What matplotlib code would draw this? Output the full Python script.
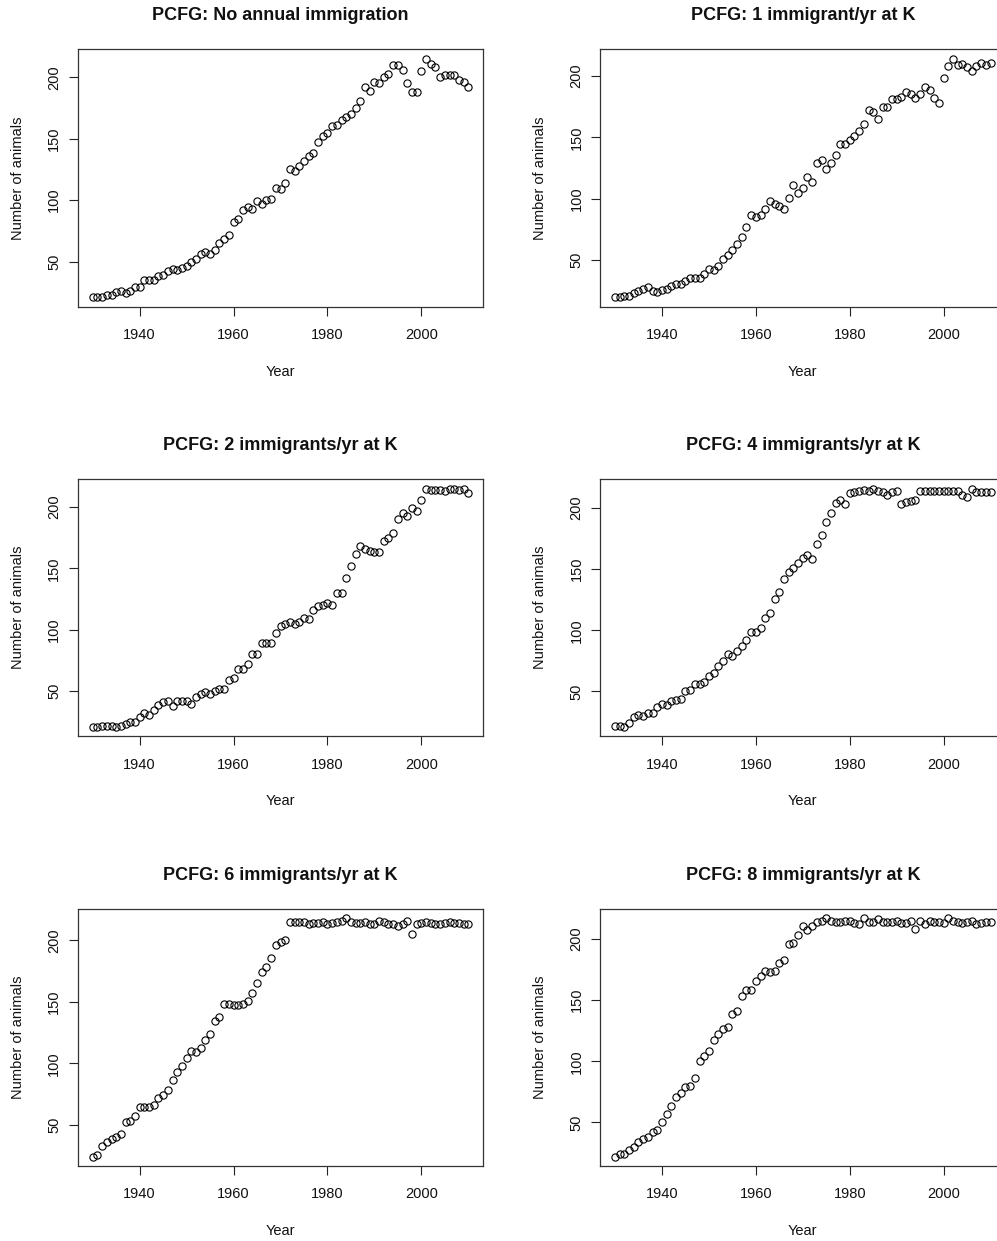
import matplotlib
matplotlib.use("Agg")
import matplotlib.pyplot as plt

plt.rcParams['font.family'] = ['Liberation Sans', 'DejaVu Sans']

years = list(range(1930, 2011))

titles = [
    "PCFG: No annual immigration",
    "PCFG: 1 immigrant/yr at K",
    "PCFG: 2 immigrants/yr at K",
    "PCFG: 4 immigrants/yr at K",
    "PCFG: 6 immigrants/yr at K",
    "PCFG: 8 immigrants/yr at K",
]

imm0 = [21, 21, 21, 23, 23, 25, 26, 24, 26, 29,
        29, 35, 35, 35, 38, 39, 42, 44, 43, 45,
        46, 50, 52, 56, 58, 56, 59, 65, 68, 72,
        82, 85, 92, 94, 93, 99, 97, 100, 101, 110,
        109, 114, 125, 124, 128, 132, 136, 138, 147, 152,
        155, 160, 161, 165, 168, 170, 175, 181, 192, 189,
        196, 195, 200, 203, 210, 210, 206, 195, 188, 188,
        205, 215, 211, 208, 200, 202, 202, 202, 198, 196,
        192]

imm1 = [20, 20, 21, 21, 23, 25, 27, 28, 25, 24,
        26, 27, 29, 31, 31, 33, 36, 36, 36, 39,
        43, 42, 45, 51, 54, 58, 63, 69, 77, 87,
        85, 87, 92, 98, 96, 94, 92, 101, 111, 105,
        109, 118, 114, 129, 132, 124, 129, 136, 145, 145,
        148, 151, 155, 161, 172, 171, 165, 175, 175, 181,
        181, 183, 187, 185, 182, 185, 191, 189, 182, 178,
        198, 208, 214, 209, 210, 207, 204, 208, 211, 209,
        211]

imm2 = [21, 21, 22, 22, 22, 21, 22, 23, 25, 25,
        29, 32, 31, 35, 39, 41, 42, 38, 42, 42,
        42, 40, 45, 48, 49, 48, 50, 52, 52, 59,
        61, 68, 68, 72, 80, 80, 89, 89, 89, 97,
        103, 105, 106, 105, 106, 110, 109, 116, 119, 120,
        122, 120, 130, 130, 142, 152, 162, 168, 166, 164,
        163, 163, 172, 175, 179, 190, 195, 193, 199, 197,
        206, 215, 214, 214, 214, 213, 215, 215, 214, 215,
        211]

imm4 = [22, 22, 21, 24, 29, 31, 30, 32, 32, 37,
        40, 39, 42, 43, 44, 50, 51, 56, 56, 58,
        63, 65, 71, 75, 81, 79, 83, 87, 92, 99,
        99, 102, 110, 114, 126, 131, 142, 148, 151, 155,
        159, 162, 158, 171, 178, 189, 196, 204, 207, 203,
        212, 213, 214, 215, 214, 216, 214, 213, 211, 213,
        214, 203, 205, 206, 207, 214, 214, 214, 214, 214,
        214, 214, 214, 214, 211, 209, 216, 213, 213, 213,
        213]

imm6 = [24, 25, 33, 36, 38, 40, 42, 52, 53, 57,
        64, 64, 64, 66, 72, 74, 78, 86, 93, 98,
        104, 110, 109, 112, 119, 124, 134, 138, 148, 148,
        147, 147, 148, 151, 157, 165, 174, 178, 186, 196,
        199, 200, 215, 215, 215, 215, 213, 214, 214, 215,
        213, 214, 215, 216, 218, 215, 214, 214, 215, 213,
        213, 216, 215, 213, 213, 212, 213, 216, 205, 213,
        214, 215, 214, 213, 213, 214, 215, 214, 214, 213,
        213]

imm8 = [22, 24, 24, 27, 30, 34, 36, 38, 42, 44,
        50, 57, 63, 71, 74, 79, 80, 86, 100, 104,
        108, 117, 122, 126, 128, 139, 141, 153, 158, 158,
        166, 170, 174, 173, 174, 180, 183, 196, 197, 203,
        211, 207, 211, 214, 215, 217, 215, 214, 214, 215,
        215, 213, 212, 217, 214, 214, 216, 214, 214, 214,
        215, 213, 213, 215, 208, 215, 212, 215, 214, 214,
        213, 217, 215, 214, 213, 214, 215, 212, 213, 214,
        214]

series = [imm0, imm1, imm2, imm4, imm6, imm8]
xticks = [1940, 1960, 1980, 2000]
yticks = [50, 100, 150, 200]

W, H = 997, 1241
fig = plt.figure(figsize=(W / 100, H / 100), dpi=100)

lefts = [77.7, 600.0]
tops = [49.3, 479.0, 908.7]
aw, ah = 405.6, 257.4

for i, (ttl, y) in enumerate(zip(titles, series)):
    r, c = divmod(i, 2)
    l = lefts[c]
    t = tops[r]
    ax = fig.add_axes([l / W, 1 - (t + ah) / H, aw / W, ah / H])
    ax.plot(years, y, linestyle='none', marker='o', markersize=5.2,
            markerfacecolor='none', markeredgecolor='black', markeredgewidth=0.8)
    x0, x1 = min(years), max(years)
    xr = x1 - x0
    ax.set_xlim(x0 - 0.04 * xr, x1 + 0.04 * xr)
    y0, y1 = min(y), max(y)
    yr = y1 - y0
    ax.set_ylim(y0 - 0.04 * yr, y1 + 0.04 * yr)
    ax.set_xticks(xticks)
    ax.set_yticks(yticks)
    ax.tick_params(axis='both', direction='out', length=6.3, width=0.8,
                   labelsize=10.5, colors='#222222', labelcolor='#111111')
    ax.tick_params(axis='x', pad=9)
    ax.tick_params(axis='y', pad=5.5)
    for lab in ax.get_yticklabels():
        lab.set_rotation(90)
        lab.set_va('center')
    for sp in ax.spines.values():
        sp.set_linewidth(0.9)
        sp.set_color('#333333')
    ax.set_xlabel("Year", fontsize=10.5, color='#111111')
    ax.xaxis.set_label_coords(0.5, -(371.5 - 306.7) / ah)
    ax.xaxis.label.set_va('center')
    ax.set_ylabel("Number of animals", fontsize=10.5, color='#111111')
    ax.yaxis.set_label_coords(-(77.7 - 17.5) / aw, 0.5)
    ax.yaxis.label.set_va('center')
    ax.set_title(ttl, fontsize=13, fontweight='bold', y=1 + 33.5 / ah, va='center',
                 pad=0, color='#111111')

fig.savefig("out.png", dpi=100)
